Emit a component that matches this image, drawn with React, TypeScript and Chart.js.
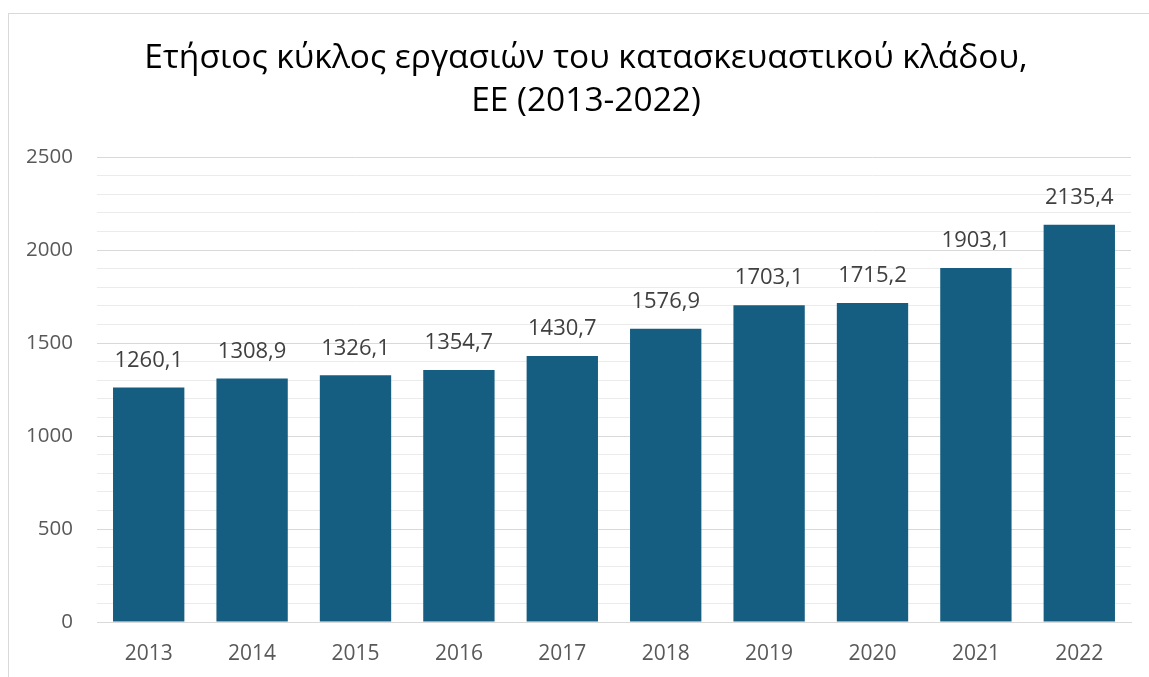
import React, { useEffect, useRef } from "react";
import { Chart, registerables } from "chart.js";

Chart.register(...registerables);

const titleLines = ["Ετήσιος κύκλος εργασιών του κατασκευαστικού κλάδου,", "ΕΕ (2013-2022)"];
const categories = ["2013", "2014", "2015", "2016", "2017", "2018", "2019", "2020", "2021", "2022"];
const turnover = [1260.1, 1308.9, 1326.1, 1354.7, 1430.7, 1576.9, 1703.1, 1715.2, 1903.1, 2135.4];
const yMax = 2500;
const yLabelStep = 500;
const yGridStep = 100;

const FONT = "'Open Sans', 'Noto Sans', sans-serif";

const titlePlugin = {
  id: "customTitle",
  afterDraw(chart: any) {
    const ctx = chart.ctx;
    ctx.save();
    ctx.fillStyle = "#000000";
    ctx.font = `33.5px ${FONT}`;
    ctx.textAlign = "center";
    ctx.textBaseline = "middle";
    ctx.fillText(titleLines[0], 586, 58);
    ctx.fillText(titleLines[1], 586, 101);
    ctx.restore();
  },
};

const labelPlugin = {
  id: "valueLabels",
  afterDatasetsDraw(chart: any) {
    const ctx = chart.ctx;
    const meta = chart.getDatasetMeta(0);
    ctx.save();
    ctx.fillStyle = "#404040";
    ctx.font = `22px ${FONT}`;
    ctx.textAlign = "center";
    ctx.textBaseline = "middle";
    meta.data.forEach((bar: any, i: number) => {
      const v = chart.data.datasets[0].data[i] as number;
      ctx.fillText(v.toFixed(1).replace(".", ","), bar.x, bar.y - 27);
    });
    ctx.restore();
  },
};

export default function App() {
  const ref = useRef<HTMLCanvasElement>(null);
  useEffect(() => {
    if (!ref.current) return;
    const chart = new Chart(ref.current, {
      type: "bar",
      data: {
        labels: categories,
        datasets: [
          {
            data: turnover,
            backgroundColor: "#165E81",
            barPercentage: 0.69,
            categoryPercentage: 1,
          },
        ],
      },
      options: {
        animation: false,
        responsive: false,
        maintainAspectRatio: false,
        layout: { padding: { top: 157, right: 18, bottom: 0, left: 0 } },
        plugins: { legend: { display: false }, title: { display: false }, tooltip: { enabled: false } },
        scales: {
          x: {
            afterFit: (s: any) => {
              s.height = 55;
            },
            grid: { display: false, drawTicks: false },
            border: { color: "#d9d9d9", width: 1 },
            ticks: { color: "#595959", font: { family: FONT, size: 21 }, padding: 19 },
          },
          y: {
            min: 0,
            max: yMax,
            afterFit: (s: any) => {
              s.width = 97;
            },
            border: { display: false },
            grid: {
              drawTicks: false,
              color: (c: any) => (c.tick && c.tick.value % yLabelStep === 0 ? "#d9d9d9" : "#ebebeb"),
              lineWidth: 1,
            },
            ticks: {
              stepSize: yGridStep,
              autoSkip: false,
              color: "#595959",
              font: { family: FONT, size: 20.5 },
              padding: 24,
              callback: (v: any) => (Number(v) % yLabelStep === 0 ? String(v) : ""),
            },
          },
        },
      },
      plugins: [titlePlugin, labelPlugin],
    });
    return () => chart.destroy();
  }, []);

  return (
    <>
      <div
        style={{
          position: "fixed",
          left: 8,
          top: 13,
          width: 2000,
          height: 2000,
          borderLeft: "1px solid #d9d9d9",
          borderTop: "1px solid #d9d9d9",
          background: "#ffffff",
        }}
      />
      <div style={{ position: "fixed", left: 0, top: 0, width: 1149, height: 677 }}>
        <canvas ref={ref} width={1149} height={677} style={{ width: 1149, height: 677, display: "block" }} />
      </div>
    </>
  );
}
